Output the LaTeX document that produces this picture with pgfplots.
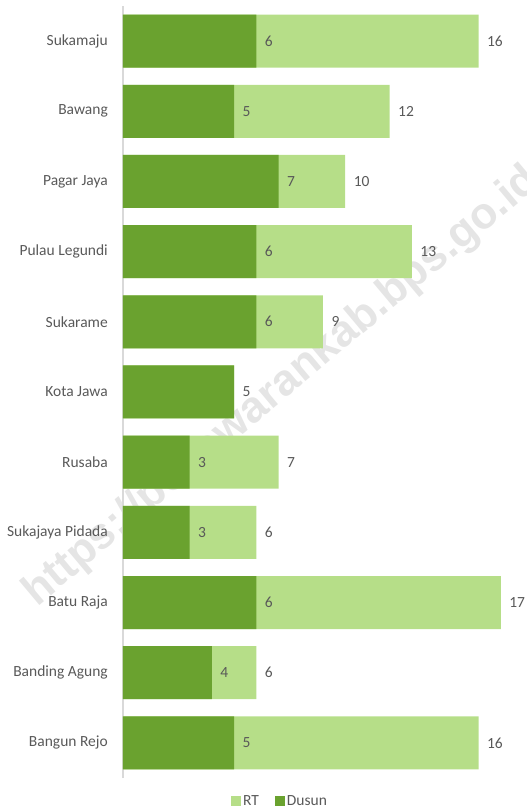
\documentclass[border=0pt]{standalone}
\usepackage{pgfplots}
\pgfplotsset{compat=1.18}
\usepackage{pgfplotstable}
\usepackage{fontspec}
\setmainfont{Carlito}
\newfontfamily\wmfont{Liberation Sans}
\definecolor{dg}{HTML}{6AA22F}
\definecolor{lg}{HTML}{B6DE88}
\definecolor{txt}{HTML}{595959}
\pgfplotstableread{
y rt dusun dl
10 16 6 6
9 12 5 5
8 10 7 7
7 13 6 6
6 9 6 6
5 5 5 {}
4 7 3 3
3 6 3 3
2 17 6 6
1 6 4 4
0 16 5 5
}\data
\begin{document}
\begin{tikzpicture}[x=1pt,y=1pt]
\useasboundingbox (0,0) rectangle (527,812);
\node[rotate=40, text=black!10, font=\wmfont\bfseries\fontsize{44}{52}\selectfont] at (282,425) {https://pesawarankab.bps.go.id};
\begin{axis}[
  at={(123pt,34pt)}, anchor=south west,
  scale only axis, width=400pt, height=772pt,
  xmin=0, xmax=18, ymin=-0.5, ymax=10.5,
  clip=false,
  /pgf/number format/assume math mode=true,
  axis x line=none,
  axis y line=left,
  y axis line style={-, draw=black!15, line width=1.2pt},
  ytick={0,...,10},
  yticklabels={Bangun Rejo,Banding Agung,Batu Raja,Sukajaya Pidada,Rusaba,Kota Jawa,Sukarame,Pulau Legundi,Pagar Jaya,Bawang,Sukamaju},
  major tick length=0pt,
  ytick style={draw=none},
  yticklabel style={inner sep=0pt, xshift=-15pt, text=txt, font=\fontsize{15.5}{18}\selectfont},
  legend style={at={(0.3925,-0.03)}, anchor=center, draw=none, legend columns=2,
    font=\fontsize{15.5}{18}\selectfont, text=txt,
    /tikz/every even column/.append style={column sep=14pt}},
  legend image code/.code={\fill[#1] (0pt,-5pt) rectangle (10pt,5pt);},
]
\addplot[xbar, bar width=53pt, bar shift=0pt, fill=lg, draw=none,
  nodes near coords, every node near coord/.append style={anchor=west, xshift=5pt, text=txt, font=\fontsize{15.5}{18}\selectfont}]
  table[x=rt, y=y]{\data};
\addplot[xbar, bar width=53pt, bar shift=0pt, fill=dg, draw=none,
  point meta=explicit symbolic,
  nodes near coords, every node near coord/.append style={anchor=west, xshift=5pt, text=txt, font=\fontsize{15.5}{18}\selectfont}]
  table[x=dusun, y=y, meta=dl]{\data};
\legend{RT,Dusun}
\end{axis}
\end{tikzpicture}
\end{document}
